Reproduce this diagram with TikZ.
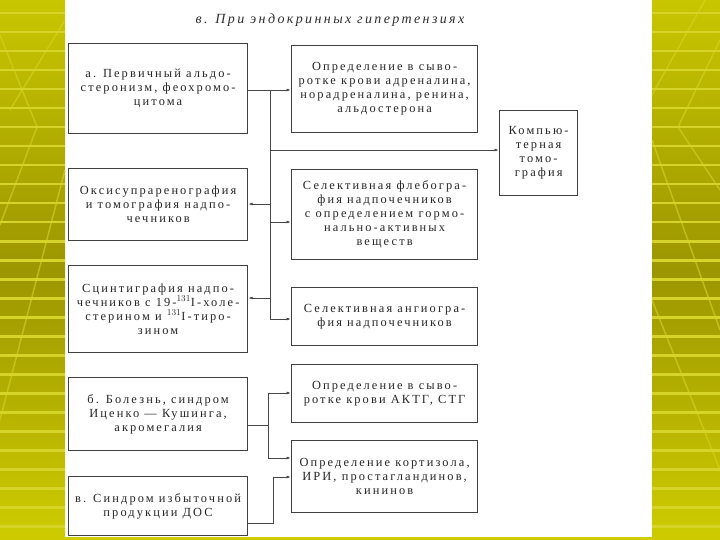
\documentclass[tikz,border=0pt]{standalone}
\usepackage{fontspec}
\setmainfont{Liberation Serif}[LetterSpace=17]
\usetikzlibrary{arrows.meta}
\newcommand{\boxfont}{\fontsize{12.4}{14}\selectfont}
\tikzset{
  box/.style={draw=black!75, line width=1.2pt, align=center, inner sep=2pt,
    anchor=north west, text=black!85, font=\boxfont},
  conn/.style={draw=black!72, line width=0.8pt},
  arr/.style={conn, -{Latex[length=4.5pt,width=3pt]}},
}
\begin{document}
\begin{tikzpicture}[x=1pt, y=-1pt]
\definecolor{olivetop}{RGB}{200,198,0}
\definecolor{olivemid}{RGB}{156,150,0}
\definecolor{olivebot}{RGB}{206,204,0}
\definecolor{stripe}{RGB}{214,212,40}
\useasboundingbox (0,0) rectangle (720,540);
% side panels
\shade[top color=olivetop, bottom color=olivebot, middle color=olivemid] (0,0) rectangle (65,540);
\shade[top color=olivetop, bottom color=olivebot, middle color=olivemid] (652,0) rectangle (720,540);
\foreach \y in {12,31,...,530} {
  \fill[stripe] (0,\y) rectangle (65,\y+2.5);
  \fill[stripe] (652,\y) rectangle (720,\y+2.5);
}
\draw[stripe, line width=1.5pt, opacity=0.6] (0,35) -- (37,127) -- (0,225);
\draw[stripe, line width=1.5pt, opacity=0.6] (65,20) -- (10,110);
\draw[stripe, line width=1.5pt, opacity=0.6] (65,170) -- (0,420);
\draw[stripe, line width=1.5pt, opacity=0.6] (720,40) -- (678,127) -- (720,190);
\draw[stripe, line width=1.5pt, opacity=0.6] (705,0) -- (652,95);
\draw[stripe, line width=1.5pt, opacity=0.6] (652,140) -- (720,330);
\draw[stripe, line width=1.5pt, opacity=0.6] (652,300) -- (720,470);
\fill[olivebot] (65,537) rectangle (652,540);
% title
\node[font=\fontsize{14}{16}\selectfont\itshape, text=black!82] (title) at (330,20) {в. При эндокринных гипертензиях};
% left column
\node[box, minimum width=179pt, minimum height=90pt] (a1) at (68,43)
  {а. Первичный альдо-\\стеронизм, феохромо-\\цитома};
\node[box, minimum width=179pt, minimum height=72pt] (a2) at (68,168)
  {Оксисупраренография\\и томография надпо-\\чечников};
\node[box, minimum width=179pt, minimum height=87pt] (a3) at (68,265)
  {Сцинтиграфия надпо-\\чечников с 19-$^{131}$I-холе-\\стерином и $^{131}$I-тиро-\\зином};
\node[box, minimum width=179pt, minimum height=73pt] (b) at (68,377)
  {б. Болезнь, синдром\\Иценко — Кушинга,\\акромегалия};
\node[box, minimum width=179pt, minimum height=59pt] (c) at (68,476)
  {в. Синдром избыточной\\продукции ДОС};
% middle column
\node[box, minimum width=186pt, minimum height=87pt] (m1) at (291,45)
  {Определение в сыво-\\ротке крови адреналина,\\норадреналина, ренина,\\альдостерона};
\node[box, minimum width=186pt, minimum height=90pt] (m2) at (291,169)
  {Селективная флебогра-\\фия надпочечников\\с определением гормо-\\нально-активных\\веществ};
\node[box, minimum width=186pt, minimum height=58pt] (m3) at (291,287)
  {Селективная ангиогра-\\фия надпочечников};
\node[box, minimum width=186pt, minimum height=58pt] (m4) at (291,364)
  {Определение в сыво-\\ротке крови АКТГ, СТГ};
\node[box, minimum width=186pt, minimum height=72pt] (m5) at (291,440)
  {Определение кортизола,\\ИРИ, простагландинов,\\кининов};
% right box
\node[box, minimum width=78pt, minimum height=85pt] (ct) at (499,110)
  {Компью-\\терная\\томо-\\графия};
% connectors of group a
\coordinate (j0) at (270,90);
\coordinate (j1) at (270,150);
\coordinate (j2) at (270,204);
\coordinate (j3) at (270,222);
\coordinate (j4) at (270,298);
\coordinate (j5) at (270,319);
\draw[arr] (j0 -| a1.east) -- (j0 -| m1.west);
\draw[conn] (j0) -- (j5);
\draw[arr] (j1) -- (j1 -| ct.west);
\draw[arr] (j2) -- (j2 -| a2.east);
\draw[arr] (j3) -- (j3 -| m2.west);
\draw[arr] (j4) -- (j4 -| a3.east);
\draw[arr] (j5) -- (j5 -| m3.west);
% connectors of groups b and c
\coordinate (kb) at (268,425);
\coordinate (kb1) at (268,393);
\coordinate (kb2) at (268,458);
\draw[conn] (kb -| b.east) -- (kb);
\draw[conn] (kb1) -- (kb2);
\draw[arr] (kb1) -- (kb1 -| m4.west);
\draw[arr] (kb2) -- (kb2 -| m5.west);
\coordinate (kc) at (273,523);
\coordinate (kc1) at (273,477);
\draw[arr] (kc -| c.east) -- (kc) -- (kc1) -- (kc1 -| m5.west);
\end{tikzpicture}
\end{document}
